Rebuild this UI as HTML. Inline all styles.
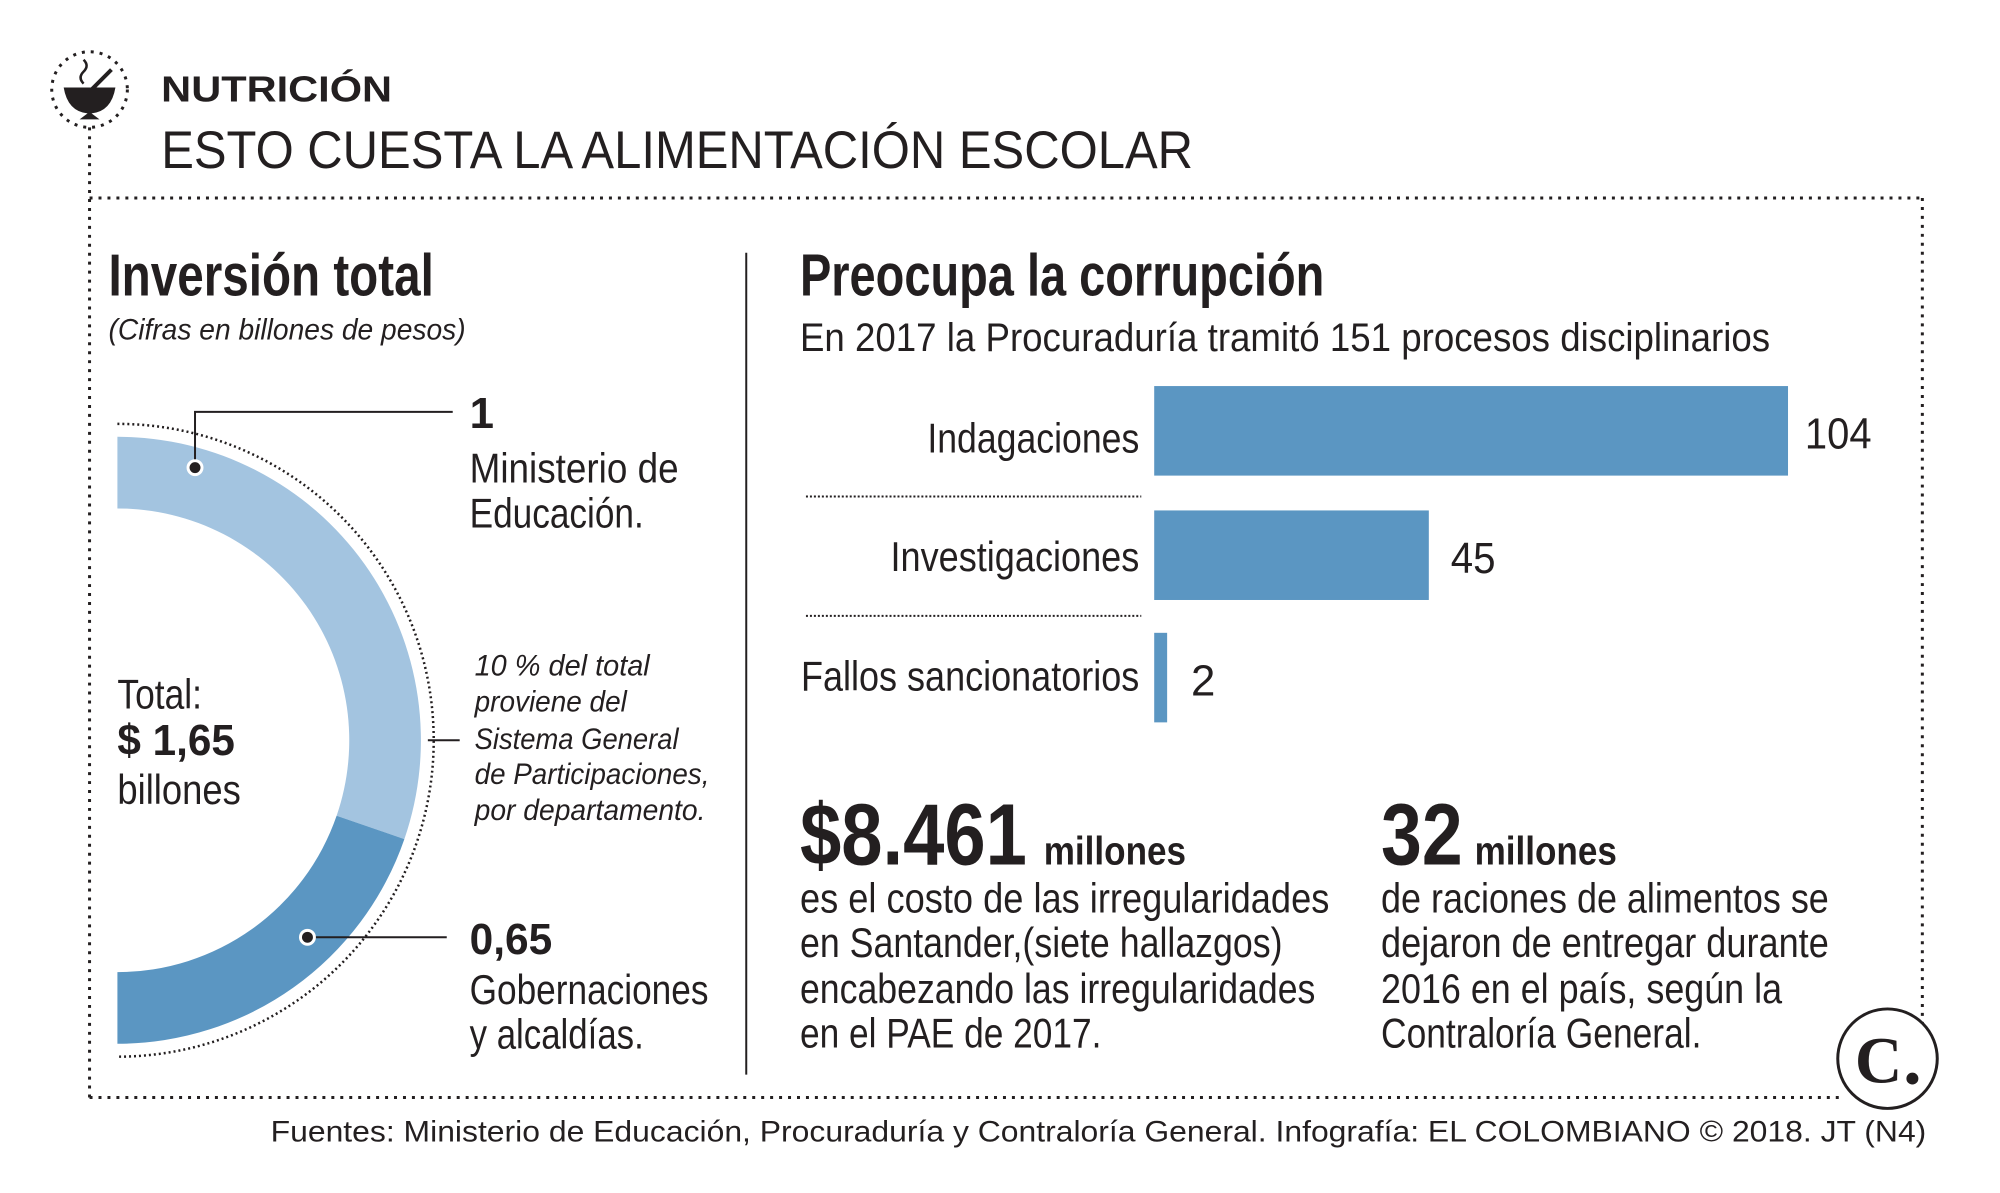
<!DOCTYPE html>
<html><head><meta charset="utf-8"><style>
html,body{margin:0;padding:0;background:#fff;}
svg{display:block;}
text{font-family:"Liberation Sans",Arial,sans-serif;fill:#231f20;}
</style></head><body>
<svg width="2000" height="1193" viewBox="0 0 2000 1193" xmlns="http://www.w3.org/2000/svg">
<g transform="scale(0.995)">
<!-- frame -->
<g stroke="#231f20" stroke-width="3" stroke-dasharray="3 6" fill="none">
<circle cx="90" cy="90" r="38"/>
<line x1="90" y1="128" x2="90" y2="1103"/>
<line x1="90" y1="199" x2="1932" y2="199"/>
<line x1="1932" y1="199" x2="1932" y2="1040"/>
<line x1="90" y1="1103" x2="1850" y2="1103"/>
</g>
<!-- bowl icon -->
<path d="M64 88 L116 88 Q112 112 92 114 L100 120 L80 120 L88 114 Q68 112 64 88Z" fill="#231f20"/>
<line x1="90" y1="92" x2="112" y2="70" stroke="#231f20" stroke-width="4"/>
<path d="M84 84 q-6 -6 0 -12 q6 -6 0 -12" stroke="#231f20" stroke-width="2.5" fill="none"/>

<text x="162" y="102" font-size="36" font-weight="bold" textLength="232" lengthAdjust="spacingAndGlyphs">NUTRICIÓN</text>
<text x="162" y="169" font-size="53" textLength="1037" lengthAdjust="spacingAndGlyphs">ESTO CUESTA LA ALIMENTACIÓN ESCOLAR</text>

<!-- left panel -->
<text x="109" y="297" font-size="60" font-weight="bold" textLength="327" lengthAdjust="spacingAndGlyphs">Inversión total</text>
<text x="109" y="341" font-size="30" font-style="italic" textLength="359" lengthAdjust="spacingAndGlyphs">(Cifras en billones de pesos)</text>

<!-- donut -->
<path d="M118 439 A305 305 0 0 1 406.4 843.3 L338.3 819.9 A233 233 0 0 0 118 511 Z" fill="#a3c4e0"/>
<path d="M406.4 843.3 A305 305 0 0 1 118 1049 L118 977 A233 233 0 0 0 338.3 819.9 Z" fill="#5b96c2"/>
<path d="M118 426 A318 318 0 0 1 118 1062" fill="none" stroke="#231f20" stroke-width="2.5" stroke-dasharray="2 3"/>

<polyline points="196,470 196,414 455,414" fill="none" stroke="#231f20" stroke-width="2"/>
<circle cx="196" cy="470" r="7" fill="#231f20" stroke="#fff" stroke-width="3"/>
<line x1="309" y1="942" x2="449" y2="942" stroke="#231f20" stroke-width="2"/>
<circle cx="309" cy="942" r="7" fill="#231f20" stroke="#fff" stroke-width="3"/>
<line x1="430" y1="744" x2="462" y2="744" stroke="#231f20" stroke-width="2"/>

<text x="472" y="430" font-size="44" font-weight="bold">1</text>
<text x="472" y="485" font-size="42" textLength="210" lengthAdjust="spacingAndGlyphs">Ministerio de</text>
<text x="472" y="530" font-size="42" textLength="175" lengthAdjust="spacingAndGlyphs">Educación.</text>

<g font-size="30" font-style="italic">
<text x="477" y="679" textLength="176" lengthAdjust="spacingAndGlyphs">10 % del total</text>
<text x="477" y="715" textLength="153" lengthAdjust="spacingAndGlyphs">proviene del</text>
<text x="477" y="753" textLength="205" lengthAdjust="spacingAndGlyphs">Sistema General</text>
<text x="477" y="788" textLength="236" lengthAdjust="spacingAndGlyphs">de Participaciones,</text>
<text x="477" y="824" textLength="232" lengthAdjust="spacingAndGlyphs">por departamento.</text>
</g>

<text x="472" y="959" font-size="44" font-weight="bold" textLength="83" lengthAdjust="spacingAndGlyphs">0,65</text>
<text x="472" y="1009" font-size="42" textLength="240" lengthAdjust="spacingAndGlyphs">Gobernaciones</text>
<text x="472" y="1054" font-size="42" textLength="175" lengthAdjust="spacingAndGlyphs">y alcaldías.</text>

<text x="118" y="712" font-size="42" textLength="85" lengthAdjust="spacingAndGlyphs">Total:</text>
<text x="118" y="759" font-size="44" font-weight="bold" textLength="118" lengthAdjust="spacingAndGlyphs">$ 1,65</text>
<text x="118" y="808" font-size="42" textLength="124" lengthAdjust="spacingAndGlyphs">billones</text>

<line x1="750" y1="254" x2="750" y2="1080" stroke="#231f20" stroke-width="2"/>

<!-- right panel -->
<text x="804" y="297" font-size="60" font-weight="bold" textLength="527" lengthAdjust="spacingAndGlyphs">Preocupa la corrupción</text>
<text x="804" y="353" font-size="40" textLength="975" lengthAdjust="spacingAndGlyphs">En 2017 la Procuraduría tramitó 151 procesos disciplinarios</text>

<rect x="1160" y="388" width="637" height="90" fill="#5b96c2"/>
<rect x="1160" y="513" width="276" height="90" fill="#5b96c2"/>
<rect x="1160" y="636" width="13" height="90" fill="#5b96c2"/>
<g stroke="#231f20" stroke-width="2" stroke-dasharray="2 2">
<line x1="810" y1="499" x2="1147" y2="499"/>
<line x1="810" y1="619" x2="1147" y2="619"/>
</g>
<g font-size="42" text-anchor="end">
<text x="1145" y="455" textLength="213" lengthAdjust="spacingAndGlyphs">Indagaciones</text>
<text x="1145" y="574" textLength="250" lengthAdjust="spacingAndGlyphs">Investigaciones</text>
<text x="1145" y="694" textLength="340" lengthAdjust="spacingAndGlyphs">Fallos sancionatorios</text>
</g>
<g font-size="44">
<text x="1814" y="451" textLength="67" lengthAdjust="spacingAndGlyphs">104</text>
<text x="1458" y="576" textLength="45" lengthAdjust="spacingAndGlyphs">45</text>
<text x="1197" y="699">2</text>
</g>

<text x="804" y="869" font-size="88" font-weight="bold" textLength="228" lengthAdjust="spacingAndGlyphs">$8.461</text>
<text x="1049" y="869" font-size="40" font-weight="bold" textLength="143" lengthAdjust="spacingAndGlyphs">millones</text>
<g font-size="42">
<text x="804" y="917" textLength="532" lengthAdjust="spacingAndGlyphs">es el costo de las irregularidades</text>
<text x="804" y="962" textLength="485" lengthAdjust="spacingAndGlyphs">en Santander,(siete hallazgos)</text>
<text x="804" y="1008" textLength="518" lengthAdjust="spacingAndGlyphs">encabezando las irregularidades</text>
<text x="804" y="1053" textLength="303" lengthAdjust="spacingAndGlyphs">en el PAE de 2017.</text>
</g>

<text x="1388" y="869" font-size="88" font-weight="bold" textLength="82" lengthAdjust="spacingAndGlyphs">32</text>
<text x="1482" y="869" font-size="40" font-weight="bold" textLength="143" lengthAdjust="spacingAndGlyphs">millones</text>
<g font-size="42">
<text x="1388" y="917" textLength="450" lengthAdjust="spacingAndGlyphs">de raciones de alimentos se</text>
<text x="1388" y="962" textLength="450" lengthAdjust="spacingAndGlyphs">dejaron de entregar durante</text>
<text x="1388" y="1008" textLength="403" lengthAdjust="spacingAndGlyphs">2016 en el país, según la</text>
<text x="1388" y="1053" textLength="322" lengthAdjust="spacingAndGlyphs">Contraloría General.</text>
</g>

<!-- logo -->
<circle cx="1897" cy="1064" r="50" fill="#fff" stroke="#231f20" stroke-width="3"/>
<text x="1888" y="1088" font-size="66" font-weight="bold" text-anchor="middle" style="font-family:'Liberation Serif',serif">C</text>
<circle cx="1922" cy="1084" r="6" fill="#231f20"/>

<text x="272" y="1147" font-size="30" textLength="1664" lengthAdjust="spacingAndGlyphs">Fuentes: Ministerio de Educación, Procuraduría y Contraloría General. Infografía: EL COLOMBIANO © 2018. JT (N4)</text>
</g>
</svg>
</body></html>
